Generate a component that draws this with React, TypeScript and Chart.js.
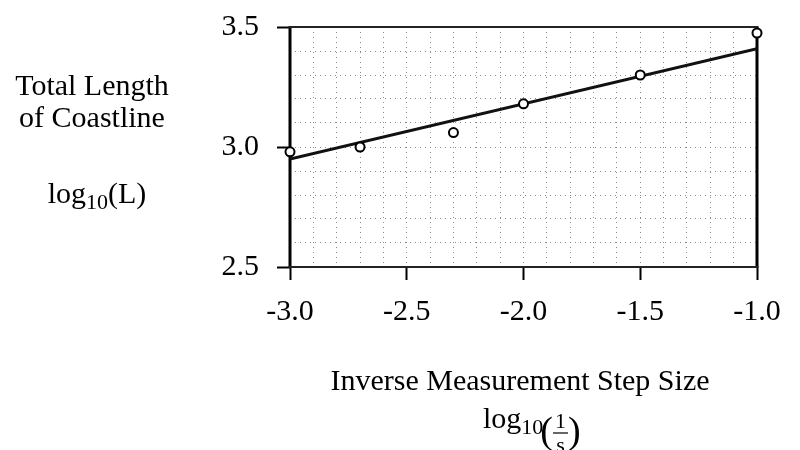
import React, { useEffect, useRef } from "react";
import { Chart, registerables } from "chart.js";

Chart.register(...registerables);

// ---- data ----
const logInverseStep = [-3.0, -2.7, -2.3, -2.0, -1.5, -1.0];
const logCoastLength = [2.98, 3.0, 3.06, 3.18, 3.3, 3.475];
const fitX = [-3.0, -1.0];
const fitY = [2.95, 3.41];
const xTickLabels = [-3.0, -2.5, -2.0, -1.5, -1.0];
const yTickLabels = [2.5, 3.0, 3.5];
const yTitleLines = ["Total Length", "of Coastline"];
const xTitle = "Inverse Measurement Step Size";

const SERIF = "'Liberation Serif', 'Times New Roman', Times, serif";

const isIn = (v: number, list: number[]) => list.some((t) => Math.abs(t - v) < 1e-6);

const framePlugin = {
  id: "frame",
  beforeDatasetsDraw(chart: any) {
    const { ctx } = chart;
    const { left, right, top, bottom } = chart.chartArea;
    ctx.save();
    ctx.strokeStyle = "#000";
    ctx.lineWidth = 3;
    ctx.beginPath();
    ctx.moveTo(left, top);
    ctx.lineTo(left, bottom);
    ctx.moveTo(right, top);
    ctx.lineTo(right, bottom);
    ctx.stroke();
    ctx.lineWidth = 2;
    ctx.strokeStyle = "#222";
    ctx.beginPath();
    ctx.moveTo(left - 1.5, top);
    ctx.lineTo(right + 1.5, top);
    ctx.moveTo(left - 1.5, bottom);
    ctx.lineTo(right + 1.5, bottom);
    ctx.stroke();
    ctx.restore();
  },
};

function drawParts(ctx: CanvasRenderingContext2D, parts: [string, number, number][], x: number, y: number) {
  let cx = x;
  for (const [t, size, dy] of parts) {
    ctx.font = `${size}px ${SERIF}`;
    ctx.fillText(t, cx, y + dy);
    cx += ctx.measureText(t).width;
  }
  return cx;
}

function widthParts(ctx: CanvasRenderingContext2D, parts: [string, number, number][]) {
  let w = 0;
  for (const [t, size] of parts) {
    ctx.font = `${size}px ${SERIF}`;
    w += ctx.measureText(t).width;
  }
  return w;
}

const titlesPlugin = {
  id: "titles",
  afterDraw(chart: any) {
    const ctx: CanvasRenderingContext2D = chart.ctx;
    ctx.save();
    ctx.fillStyle = "#000";
    ctx.strokeStyle = "#000";
    ctx.textBaseline = "alphabetic";

    // y title
    ctx.font = `30px ${SERIF}`;
    ctx.textAlign = "center";
    ctx.fillText(yTitleLines[0], 92, 95);
    ctx.fillText(yTitleLines[1], 92, 127);
    ctx.textAlign = "left";
    const yParts: [string, number, number][] = [
      ["log", 30, 0],
      ["10", 22, 6],
      ["(L)", 30, 0],
    ];
    const yw = widthParts(ctx, yParts);
    drawParts(ctx, yParts, 97 - yw / 2, 203);

    // x title
    ctx.font = `30px ${SERIF}`;
    ctx.textAlign = "center";
    ctx.fillText(xTitle, 520, 390);
    ctx.textAlign = "left";
    let cx = drawParts(ctx, [["log", 30, 0], ["10", 22, 6]], 483, 428);
    ctx.font = `38px ${SERIF}`;
    ctx.fillText("(", cx - 3, 443);
    cx += ctx.measureText("(").width - 3;
    ctx.font = `22px ${SERIF}`;
    const fw = Math.max(ctx.measureText("1").width, ctx.measureText("s").width) + 4;
    ctx.textAlign = "center";
    ctx.fillText("1", cx + fw / 2, 428);
    ctx.fillText("s", cx + fw / 2, 452);
    ctx.lineWidth = 1.2;
    ctx.beginPath();
    ctx.moveTo(cx, 433);
    ctx.lineTo(cx + fw, 433);
    ctx.stroke();
    ctx.textAlign = "left";
    ctx.font = `38px ${SERIF}`;
    ctx.fillText(")", cx + fw, 443);
    ctx.restore();
  },
};

export default function App() {
  const ref = useRef<HTMLCanvasElement | null>(null);

  useEffect(() => {
    document.body.style.margin = "0";
    const canvas = ref.current;
    if (!canvas) return;
    const chart = new Chart(canvas, {
      type: "scatter",
      data: {
        datasets: [
          {
            label: "Measurements",
            data: logInverseStep.map((x, i) => ({ x, y: logCoastLength[i] })),
            pointRadius: 4.5,
            pointBorderWidth: 2,
            pointBackgroundColor: "#fff",
            pointBorderColor: "#000",
            showLine: false,
            clip: false,
          },
          {
            label: "Fit",
            data: fitX.map((x, i) => ({ x, y: fitY[i] })),
            showLine: true,
            pointRadius: 0,
            borderColor: "#111",
            borderWidth: 3,
          },
        ],
      },
      options: {
        responsive: false,
        animation: false,
        devicePixelRatio: 1,
        layout: { padding: { top: 27, right: 43, left: 0, bottom: 0 } },
        plugins: {
          legend: { display: false },
          tooltip: { enabled: false },
        },
        scales: {
          x: {
            type: "linear",
            position: "bottom",
            min: -3,
            max: -1,
            afterFit(scale: any) {
              scale.height = 183;
              scale.paddingLeft = 0;
              scale.paddingRight = 0;
            },
            ticks: {
              stepSize: 0.1,
              autoSkip: false,
              maxRotation: 0,
              minRotation: 0,
              padding: 14,
              color: "#000",
              font: { family: SERIF, size: 30 },
              callback: (v: any) => (isIn(Number(v), xTickLabels) ? Number(v).toFixed(1) : ""),
            },
            grid: {
              color: "#8a8a8a",
              lineWidth: 1,
              tickLength: 13,
              tickWidth: 2,
              tickColor: (c: any) => (c.tick && isIn(c.tick.value, xTickLabels) ? "#000" : "rgba(0,0,0,0)"),
            },
            border: { display: false, dash: [1, 4] },
          },
          y: {
            type: "linear",
            position: "left",
            min: 2.5,
            max: 3.5,
            afterFit(scale: any) {
              scale.width = 290;
              scale.paddingTop = 0;
              scale.paddingBottom = 0;
            },
            ticks: {
              stepSize: 0.1,
              autoSkip: false,
              padding: 18,
              color: "#000",
              font: { family: SERIF, size: 30 },
              callback: (v: any) => (isIn(Number(v), yTickLabels) ? Number(v).toFixed(1) : ""),
            },
            grid: {
              color: "#8a8a8a",
              lineWidth: 1,
              tickLength: 13,
              tickWidth: 2,
              tickColor: (c: any) => (c.tick && isIn(c.tick.value, yTickLabels) ? "#000" : "rgba(0,0,0,0)"),
            },
            border: { display: false, dash: [1, 4] },
          },
        },
      },
      plugins: [framePlugin, titlesPlugin],
    });
    return () => chart.destroy();
  }, []);

  return (
    <div style={{ position: "absolute", left: 0, top: 0, width: 800, height: 450, background: "#fff" }}>
      <canvas ref={ref} width={800} height={450} />
    </div>
  );
}
